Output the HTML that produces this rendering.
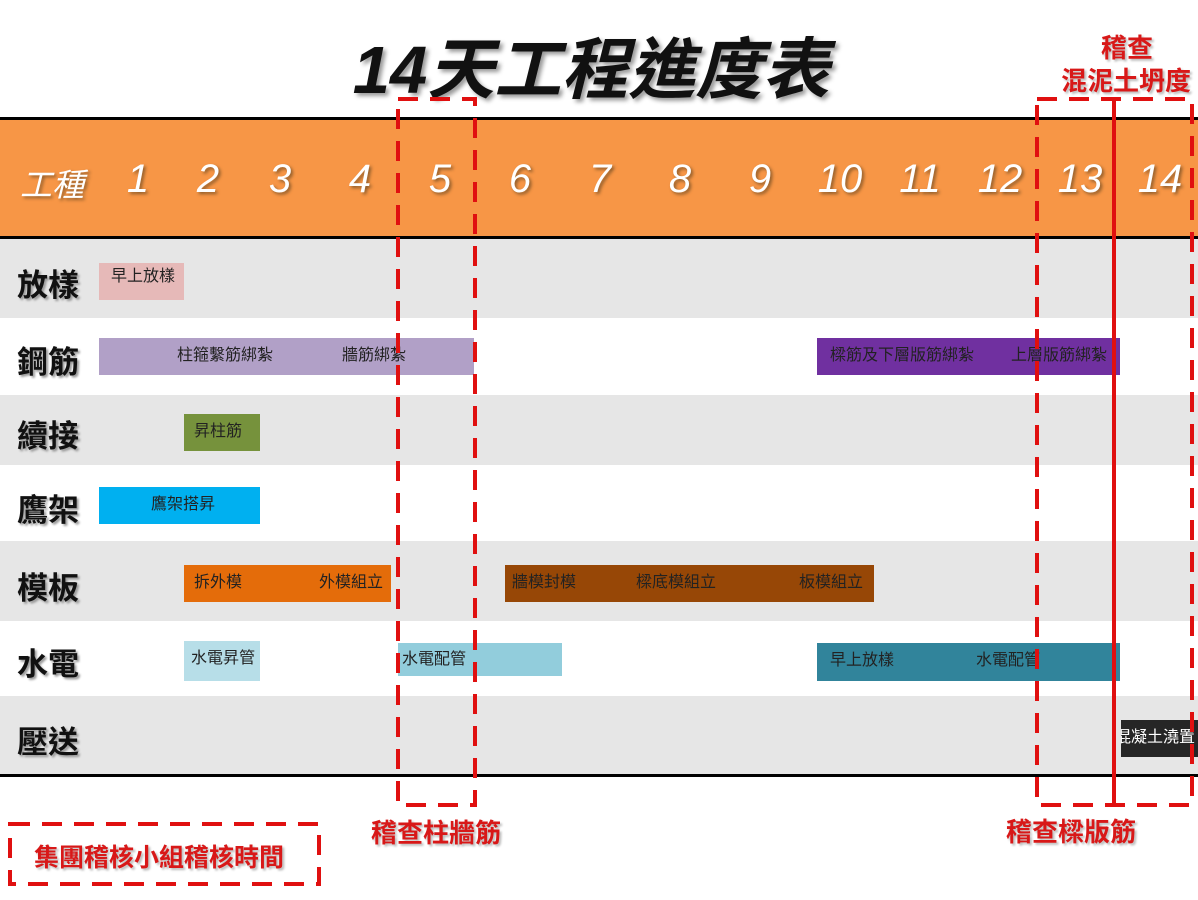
<!DOCTYPE html>
<html><head><meta charset="utf-8"><style>
*{margin:0;padding:0;box-sizing:border-box}
body{width:1198px;height:900px;position:relative;background:#fff;overflow:hidden;font-family:"Liberation Sans","Noto Sans CJK TC",sans-serif}
.a{position:absolute}
.row{position:absolute;left:0;width:1198px}
.lab{position:absolute;left:17px;font-size:31px;font-weight:bold;color:#111;text-shadow:2px 2px 2px #999}
.bar{position:absolute;height:37px;font-size:16px;color:#222;line-height:36px;white-space:nowrap;overflow:hidden}
.bar span{position:absolute;top:0}
.num{position:absolute;top:157px;font-size:40px;font-style:italic;color:#fff;text-shadow:2px 2px 3px #8a5a2a;transform:translateX(-50%)}
.red{position:absolute;color:#d81818;font-weight:bold;font-size:26px;text-shadow:2px 2px 2px #bbb;white-space:nowrap}
</style></head><body>
<div class="a" style="left:0;top:16px;width:1182px;text-align:center;font-size:67px;font-weight:bold;font-style:italic;color:#111;text-shadow:3px 3px 4px #999">14天工程進度表</div>

<div class="row" style="top:117px;height:122px;background:#f79646;border-top:3px solid #000;border-bottom:3px solid #000"></div>
<div class="num" style="left:52px;font-size:32px;top:160px">工種</div>
<div class="num" style="left:138px">1</div><div class="num" style="left:208px">2</div><div class="num" style="left:280px">3</div><div class="num" style="left:360px">4</div><div class="num" style="left:440px">5</div><div class="num" style="left:520px">6</div><div class="num" style="left:600px">7</div><div class="num" style="left:680px">8</div><div class="num" style="left:760px">9</div><div class="num" style="left:840px">10</div><div class="num" style="left:920px">11</div><div class="num" style="left:1000px">12</div><div class="num" style="left:1080px">13</div><div class="num" style="left:1160px">14</div>

<div class="row" style="top:239px;height:79px;background:#e6e6e6"></div>
<div class="row" style="top:395px;height:70px;background:#e6e6e6"></div>
<div class="row" style="top:541px;height:80px;background:#e6e6e6"></div>
<div class="row" style="top:696px;height:78px;background:#e6e6e6"></div>
<div class="row" style="top:774px;height:3px;background:#000"></div>

<div class="lab" style="top:260px">放樣</div>
<div class="lab" style="top:337px">鋼筋</div>
<div class="lab" style="top:411px">續接</div>
<div class="lab" style="top:485px">鷹架</div>
<div class="lab" style="top:563px">模板</div>
<div class="lab" style="top:639px">水電</div>
<div class="lab" style="top:717px">壓送</div>

<div class="bar" style="left:99px;top:263px;width:85px;background:#e6b9b8"><span style="left:12px;top:-4px">早上放樣</span></div>
<div class="bar" style="left:99px;top:338px;width:375px;background:#b1a0c7"><span style="left:78px">柱箍繫筋綁紮</span><span style="left:243px">牆筋綁紮</span></div>
<div class="bar" style="left:817px;top:338px;width:303px;background:#7030a0"><span style="left:13px">樑筋及下層版筋綁紮</span><span style="left:194px">上層版筋綁紮</span></div>
<div class="bar" style="left:184px;top:414px;width:76px;background:#76923c"><span style="left:10px">昇柱筋</span></div>
<div class="bar" style="left:99px;top:487px;width:161px;background:#00b0f0"><span style="left:52px">鷹架搭昇</span></div>
<div class="bar" style="left:184px;top:565px;width:207px;background:#e46c0a"><span style="left:10px">拆外模</span><span style="left:135px">外模組立</span></div>
<div class="bar" style="left:505px;top:565px;width:369px;background:#974706"><span style="left:7px">牆模封模</span><span style="left:131px">樑底模組立</span><span style="left:294px">板模組立</span></div>
<div class="bar" style="left:184px;top:641px;width:76px;height:40px;background:#b7dee8"><span style="left:7px">水電昇管</span></div>
<div class="bar" style="left:398px;top:643px;width:164px;height:33px;background:#92cddc;line-height:34px"><span style="left:4px">水電配管</span></div>
<div class="bar" style="left:817px;top:643px;width:303px;height:38px;background:#31849b"><span style="left:13px">早上放樣</span><span style="left:159px">水電配管</span></div>
<div class="bar" style="left:1121px;top:720px;width:77px;background:#262626;color:#fff"><span style="left:-6px">混凝土澆置</span></div>

<svg class="a" style="left:0;top:0" width="1198" height="900">
<g fill="none" stroke="#e01010" stroke-width="4" stroke-dasharray="20,12">
<rect x="398" y="99" width="77" height="706"/>
<rect x="1037" y="99" width="155" height="706"/>
<rect x="10" y="824" width="309" height="60"/>
</g>
<line x1="1114" y1="98" x2="1114" y2="806" stroke="#e01010" stroke-width="4"/>
</svg>

<div class="red" style="left:371px;top:813px">稽查柱牆筋</div>
<div class="red" style="left:1006px;top:812px">稽查樑版筋</div>
<div class="red" style="left:1101px;top:28px">稽查</div>
<div class="red" style="left:1061px;top:61px">混泥土坍度</div>
<div class="red" style="left:34px;top:838px;font-size:25px">集團稽核小組稽核時間</div>
</body></html>
